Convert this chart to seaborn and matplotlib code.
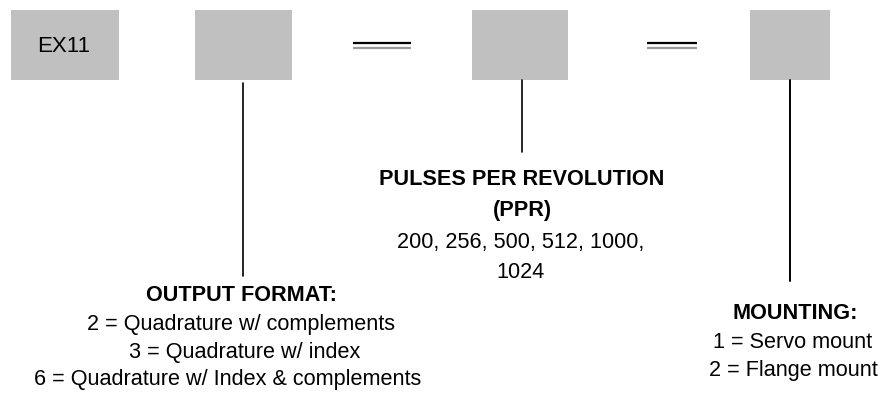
import matplotlib
matplotlib.use("Agg")
import matplotlib.pyplot as plt
import seaborn as sns
from matplotlib.patches import Rectangle

# labels of the ordering code diagram
prefix = "EX11"
ppr_title = ["PULSES PER REVOLUTION", "(PPR)"]
ppr_values = ["200, 256, 500, 512, 1000,", "1024"]
output_title = "OUTPUT FORMAT:"
output_options = ["2 = Quadrature w/ complements",
                  "3 = Quadrature w/ index",
                  "6 = Quadrature w/ Index & complements"]
mount_title = "MOUNTING:"
mount_options = ["1 = Servo mount", "2 = Flange mount"]

sns.set_theme(style="white")
plt.rcParams['font.family'] = ['Liberation Sans', 'DejaVu Sans']

fig = plt.figure(figsize=(8.81, 4.02), dpi=100)
ax = fig.add_axes([0, 0, 1, 1])
ax.set_xlim(0, 881)
ax.set_ylim(402, 0)
ax.axis('off')

box_grey = '#c0c0c0'
# boxes (left, right)
boxes = [(11, 119), (195, 292), (472, 568), (750, 830)]
for x0, x1 in boxes:
    ax.add_patch(Rectangle((x0, 11), x1 - x0, 70, color=box_grey, lw=0))

ax.text(64, 47, prefix, ha='center', va='center', fontsize=16, color='black')

# double dashes
for x0, x1 in [(353, 411), (647, 697)]:
    ax.plot([x0, x1], [44, 44], color='black', lw=1.6, solid_capstyle='butt')
    ax.plot([x0, x1], [49, 49], color='#9a9a9a', lw=1.6, solid_capstyle='butt')

# leader lines
ax.plot([243, 243], [84, 277], color='black', lw=1.2)
ax.plot([522, 522], [81, 153], color='black', lw=1.2)
ax.plot([790, 790], [81, 282], color='black', lw=1.4)

fs = 15.6
# PPR block
ys = [180, 211, 243, 273]
for y, t in zip(ys[:2], ppr_title):
    ax.text(522, y, t, ha='center', va='center', fontsize=fs, fontweight='bold', color='black')
for y, t in zip(ys[2:], ppr_values):
    ax.text(521, y, t, ha='center', va='center', fontsize=fs, color='black')

# output format block
ax.text(241, 296, output_title, ha='center', va='center', fontsize=fs, fontweight='bold', color='black')
for y, xc, t in zip([325, 353, 380], [241, 245, 228], output_options):
    ax.text(xc, y, t, ha='center', va='center', fontsize=fs, color='black')

# mounting block
ax.text(795, 314, mount_title, ha='center', va='center', fontsize=fs, fontweight='bold', color='black')
for y, t in zip([343, 371], mount_options):
    ax.text(793, y, t, ha='center', va='center', fontsize=fs, color='black')

fig.savefig('out.png', dpi=100)
